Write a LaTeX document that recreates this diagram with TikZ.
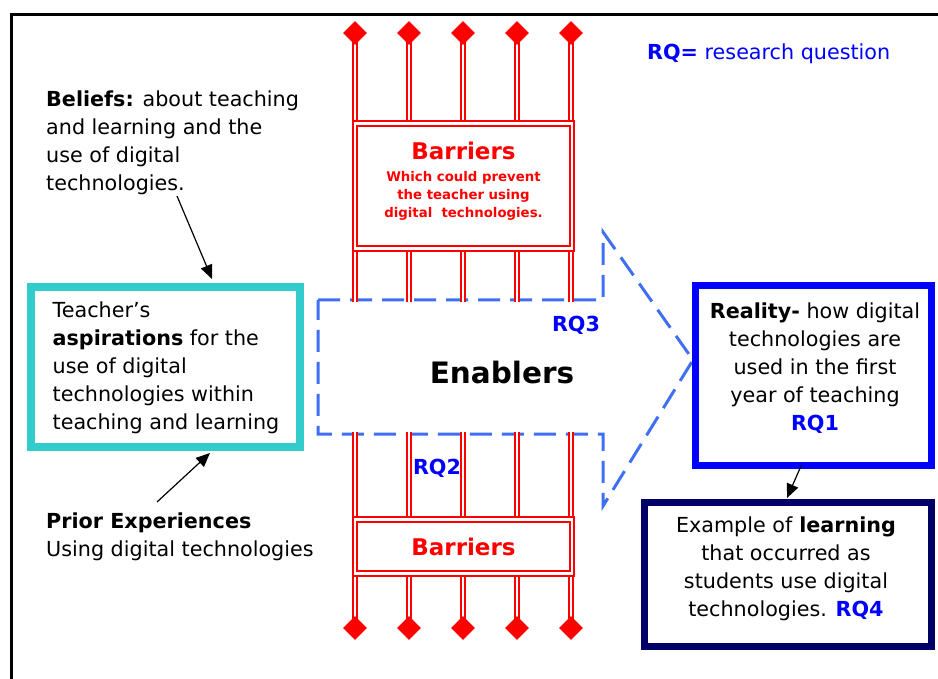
\documentclass[tikz,border=0pt]{standalone}
\usepackage{fontspec}
\setmainfont{DejaVu Sans}
\usetikzlibrary{arrows.meta,shapes.geometric}
\definecolor{rqblue}{HTML}{0000FF}
\definecolor{dashblue}{HTML}{3F6FF5}
\definecolor{tealc}{HTML}{33CCCC}
\definecolor{navyc}{HTML}{000066}
\definecolor{redc}{HTML}{FF0000}
\newcommand{\bodyfont}{\fontsize{20.7}{28}\selectfont}
\tikzset{
  frame/.style={draw=black,line width=3pt},
  redpost/.style={draw=redc,line width=1.5pt,double=white,double distance=2.5pt},
  redbox/.style={draw=redc,line width=1.8pt,double=white,double distance=2.6pt,fill=white,inner sep=0pt},
  knob/.style={diamond,fill=redc,inner sep=0pt,minimum width=24pt,minimum height=24pt},
  enabler/.style={draw=dashblue,line width=3pt,dash pattern=on 22pt off 10pt,line join=miter},
  plain/.style={inner sep=0pt,font=\bodyfont},
  pointer/.style={draw=black,line width=1.2pt,-{Triangle[length=14pt,width=12pt]}},
  rq/.style={text=rqblue,font=\bodyfont\bfseries,inner sep=0pt}
}
\begin{document}
\begin{tikzpicture}[x=1pt,y=-1pt]
\useasboundingbox (0,0) rectangle (938,679);
\begin{scope}
\clip (0,0) rectangle (938,679);
\draw[frame] (11.5,14.5) rectangle (960,700);
\end{scope}

% enabler arrow (dashed)
\draw[enabler] (318,300) -- (603,300) -- (603,232) -- (693,360) -- (603,506) -- (603,434) -- (318,434) -- cycle;
\coordinate (atop) at (0,302);
\coordinate (abot) at (0,432);

% red posts and knobs
\foreach \i/\x in {1/355,2/409,3/463,4/517,5/571}{
  \coordinate (pt\i) at (\x,36);
  \coordinate (pb\i) at (\x,625);
  \draw[redpost] (pt\i) -- (pt\i |- atop);
  \draw[redpost] (pb\i |- abot) -- (pb\i);
  \node[knob] (dt\i) at (\x,33) {};
  \node[knob] (db\i) at (\x,628) {};
}

% barrier boxes
\node[redbox,minimum width=217pt,minimum height=125pt] (bartop) at (463.5,186) {};
\node[text=redc,font=\fontsize{23}{28}\selectfont\bfseries,inner sep=0pt] (bartitle) at (463.5,151) {Barriers};
\node[text=redc,font=\fontsize{13.3}{18}\selectfont\bfseries,align=center,inner sep=0pt] (barsub) at (463.5,196) {Which could prevent\\the teacher using\\digital\ \ technologies.};
\node[redbox,minimum width=217pt,minimum height=54pt] (barbot) at (463.5,546.5) {};
\node[text=redc,font=\fontsize{23}{28}\selectfont\bfseries,inner sep=0pt] (bartitle2) at (463.5,546.5) {Barriers};

% enabler labels
\node[font=\fontsize{29.5}{36}\selectfont\bfseries,inner sep=0pt] (enab) at (502,373) {Enablers};
\node[rq] (rq3) at (576,325) {RQ3};
\node[rq] (rq2) at (437,468) {RQ2};

% legend
\node[plain,text=rqblue,anchor=west] (legend) at (647,54) {\textbf{RQ=} research question};

% beliefs
\node[plain,anchor=north west,align=left] (beliefs) at (46,91) {\textbf{Beliefs:} about teaching\\and learning and the\\use of digital\\technologies.};

% aspirations box
\node[draw=tealc,line width=8pt,minimum width=269pt,minimum height=160pt,inner sep=0pt] (asp) at (165.5,367) {};
\node[plain,align=left] (asptext) at (166,368) {Teacher’s\\\textbf{aspirations} for the\\use of digital\\technologies within\\teaching and learning};

% prior experiences
\node[plain,anchor=north west,align=left] (prior) at (46,513) {\textbf{Prior Experiences}\\Using digital technologies};

% reality box
\node[draw=rqblue,line width=7pt,minimum width=236pt,minimum height=180pt,inner sep=0pt] (reality) at (813.5,375.5) {};
\node[plain,align=center] (realtext) at (815,368) {\textbf{Reality-} how digital\\technologies are\\used in the first\\year of teaching\\\textcolor{rqblue}{\textbf{RQ1}}};

% example box
\node[draw=navyc,line width=7pt,minimum width=287pt,minimum height=144pt,inner sep=0pt] (example) at (787.5,574) {};
\node[plain,align=center] (extext) at (786,569) {Example of \textbf{learning}\\that occurred as\\students use digital\\technologies. \textcolor{rqblue}{\textbf{RQ4}}};

% pointers
\coordinate (bfrom) at (177,196);
\coordinate (bto) at (212,279);
\draw[pointer] (bfrom) -- (bto);
\coordinate (pfrom) at (157,502);
\coordinate (pto) at (210,453);
\draw[pointer] (pfrom) -- (pto);
\coordinate (rfrom) at (801,466);
\coordinate (rto) at (787,498);
\draw[pointer] (rfrom) -- (rto);
\end{tikzpicture}
\end{document}
